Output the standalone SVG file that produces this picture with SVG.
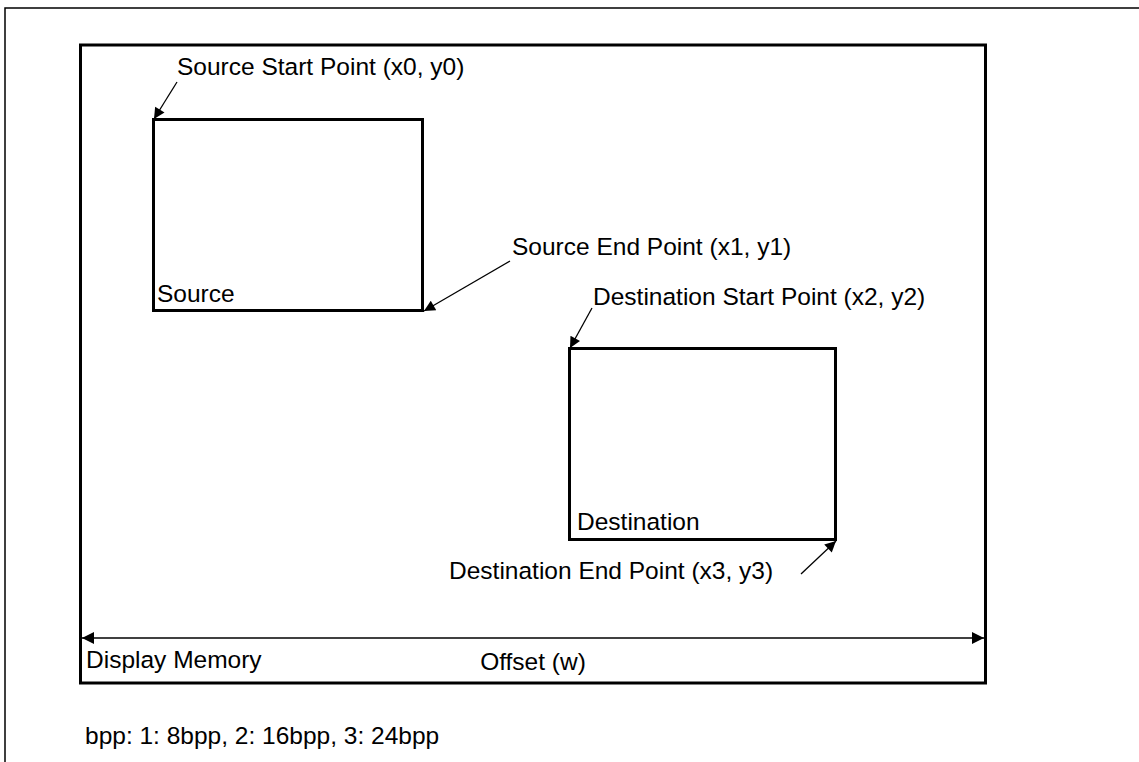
<svg xmlns="http://www.w3.org/2000/svg" width="1139" height="762" viewBox="0 0 1139 762">
<defs>
<style>
.t{font-family:"Liberation Sans",Arial,sans-serif;font-size:24.5px;fill:#000}
.box{fill:none;stroke:#000;stroke-width:3}
.ln{stroke:#000;stroke-width:1.3;fill:none}
</style>
<marker id="ah" viewBox="0 0 10 10" refX="10" refY="5" markerWidth="13" markerHeight="11" markerUnits="userSpaceOnUse" orient="auto-start-reverse">
<path d="M0,0 L10,5 L0,10 Z" fill="#000"/>
</marker>
<marker id="ah2" viewBox="0 0 10 10" refX="10" refY="5" markerWidth="14" markerHeight="12" markerUnits="userSpaceOnUse" orient="auto-start-reverse">
<path d="M0,0 L10,5 L0,10 Z" fill="#000"/>
</marker>
</defs>
<rect width="1139" height="762" fill="#fff"/>
<path d="M5,770 L5,8 L1145,8" fill="none" stroke="#000" stroke-width="1.5"/>
<g id="display-memory">
<rect class="box" x="80.5" y="45" width="905" height="638"/>
<text class="t" x="86" y="668">Display Memory</text>
</g>
<g id="source">
<rect class="box" x="153.5" y="119.5" width="269" height="191"/>
<text class="t" x="157" y="302">Source</text>
</g>
<g id="destination">
<rect class="box" x="569.5" y="348.5" width="266" height="191"/>
<text class="t" x="577" y="530">Destination</text>
</g>
<g id="labels">
<text class="t" x="177" y="75">Source Start Point (x0, y0)</text>
<text class="t" x="512" y="255">Source End Point (x1, y1)</text>
<text class="t" x="593" y="305">Destination Start Point (x2, y2)</text>
<text class="t" x="449" y="579">Destination End Point (x3, y3)</text>
<text class="t" x="533" y="670" text-anchor="middle">Offset (w)</text>
<text class="t" x="85" y="744">bpp: 1: 8bpp, 2: 16bpp, 3: 24bpp</text>
</g>
<g id="connectors">
<line class="ln" x1="177" y1="82" x2="154" y2="119" marker-end="url(#ah)"/>
<line class="ln" x1="510" y1="261" x2="424" y2="311" marker-end="url(#ah)"/>
<line class="ln" x1="592" y1="308" x2="570" y2="348" marker-end="url(#ah)"/>
<line class="ln" x1="801" y1="574" x2="836" y2="541" marker-end="url(#ah)"/>
<line class="ln" x1="82" y1="638" x2="984" y2="638" marker-start="url(#ah2)" marker-end="url(#ah2)"/>
</g>
</svg>
